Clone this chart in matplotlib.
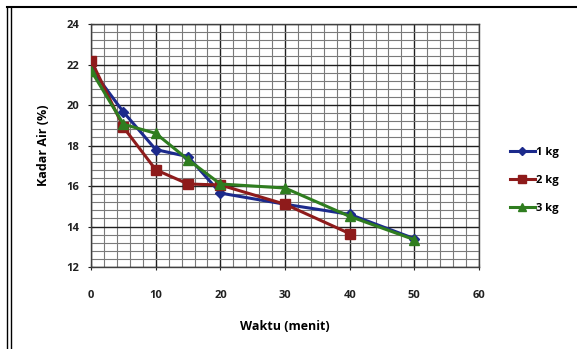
import numpy as np
import matplotlib
matplotlib.use("Agg")
import matplotlib.pyplot as plt
from matplotlib.lines import Line2D

# data
waktu = [0, 5, 10, 15, 20, 30, 40, 50]
kadar_1kg = [21.8, 19.65, 17.8, 17.45, 15.65, 15.1, 14.6, 13.4]
kadar_2kg = [22.2, 18.9, 16.8, 16.1, 16.05, 15.1, 13.65]
kadar_3kg = [21.7, 19.05, 18.6, 17.3, 16.1, 15.9, 14.5, 13.35]
labels = ['1 kg', '2 kg', '3 kg']

plt.rcParams['font.family'] = ['Open Sans', 'DejaVu Sans']

fig = plt.figure(figsize=(5.77, 3.49), dpi=100)
ax = fig.add_axes([0.158, 0.235, 0.672, 0.696])

# grid: minor every 2 min / 0.4 %, major every 10 min / 2 %
ax.set_xlim(0, 60)
ax.set_ylim(12, 24)
ax.set_xticks(np.arange(0, 61, 10))
ax.set_yticks(np.arange(12, 25, 2))
ax.set_xticks(np.arange(0, 61, 2), minor=True)
ax.set_yticks(np.arange(12, 24.01, 0.4), minor=True)
ax.grid(which='major', color='#202020', linewidth=1.0)
ax.grid(which='minor', color='#7a7a7a', linewidth=0.8)
ax.set_axisbelow(True)
ax.tick_params(which='minor', length=0)
ax.tick_params(axis='x', which='major', direction='inout', length=5, pad=14,
               labelsize=8, colors='#202020')
ax.tick_params(axis='y', which='major', direction='inout', length=5, pad=6,
               labelsize=8, colors='#202020')
for lab in ax.get_xticklabels() + ax.get_yticklabels():
    lab.set_fontweight('bold')
for side in ['top', 'right', 'left', 'bottom']:
    ax.spines[side].set_color('#404040')
    ax.spines[side].set_linewidth(1.0)

ax.plot(waktu[:len(kadar_1kg)], kadar_1kg, color='#1c2a8c', marker='D',
        markersize=5, linewidth=2.2, label=labels[0], zorder=3)
ax.plot(waktu[:len(kadar_2kg)], kadar_2kg, color='#8e1b1b', marker='s',
        markersize=7, linewidth=2.2, label=labels[1], zorder=4)
ax.plot(waktu[:len(kadar_3kg)], kadar_3kg, color='#2f7d1f', marker='^',
        markersize=7, linewidth=2.2, label=labels[2], zorder=5)

ax.set_xlabel('Waktu (menit)', fontsize=9, fontweight='bold', labelpad=14)
ax.set_ylabel('Kadar Air (%)', fontsize=9, fontweight='bold', labelpad=12)

leg = ax.legend(loc='center left', bbox_to_anchor=(1.055, 0.356), frameon=False,
                prop={'size': 8, 'weight': 'bold'}, handlelength=2.2,
                handletextpad=0.1, labelspacing=1.55, markerscale=0.8)

# outer frame of the picture
fig.add_artist(Line2D([0.012, 1.0], [0.98, 0.98], color='black', linewidth=1.5))
fig.add_artist(Line2D([0.012, 0.012], [0.0, 0.98], color='black', linewidth=1.0))
fig.add_artist(Line2D([0.019, 0.019], [0.0, 0.98], color='black', linewidth=1.0))

fig.savefig('out.png', dpi=100)
